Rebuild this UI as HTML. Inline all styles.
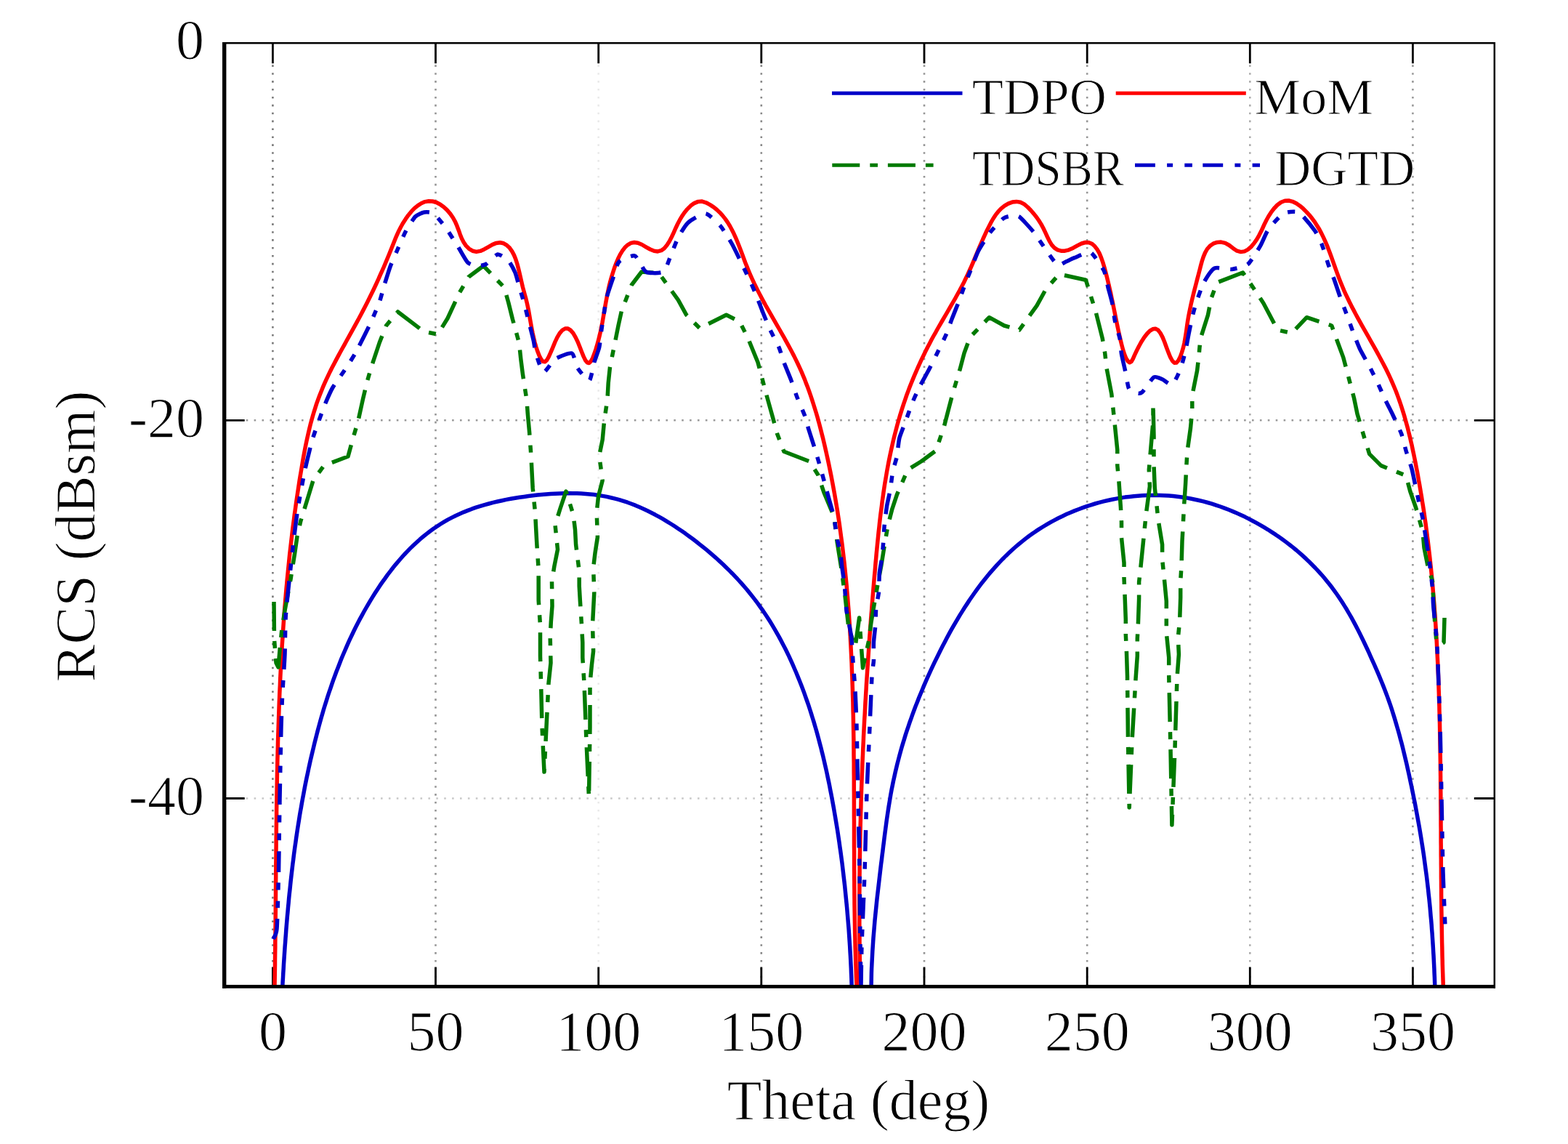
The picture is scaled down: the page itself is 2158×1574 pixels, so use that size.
<!DOCTYPE html>
<html><head><meta charset="utf-8"><title>RCS vs Theta</title>
<style>html,body{margin:0;padding:0;background:#fff;}svg{display:block;}text{font-family:"Liberation Serif","Times New Roman",serif;fill:#000;stroke:#fff;stroke-width:1.1px;}</style>
</head><body>
<svg xmlns="http://www.w3.org/2000/svg" width="2158" height="1574" viewBox="0 0 2158 1574">
<rect width="2158" height="1574" fill="#fff"/>
<path d="M375.4 89.3 V1355.4" stroke="#7a7a7a" stroke-width="2.6" stroke-dasharray="2.6 8.3" fill="none"/>
<path d="M599.5 89.3 V1355.4" stroke="#959595" stroke-width="2.6" stroke-dasharray="2.6 8.3" fill="none"/>
<path d="M823.7 89.3 V1355.4" stroke="#eaeaea" stroke-width="2.6" stroke-dasharray="2.6 8.3" fill="none"/>
<path d="M1047.8 89.3 V1355.4" stroke="#888888" stroke-width="2.6" stroke-dasharray="2.6 8.3" fill="none"/>
<path d="M1272 89.3 V1355.4" stroke="#959595" stroke-width="2.6" stroke-dasharray="2.6 8.3" fill="none"/>
<path d="M1496.2 89.3 V1355.4" stroke="#959595" stroke-width="2.6" stroke-dasharray="2.6 8.3" fill="none"/>
<path d="M1720.3 89.3 V1355.4" stroke="#acacac" stroke-width="2.6" stroke-dasharray="2.6 8.3" fill="none"/>
<path d="M1944.4 89.3 V1355.4" stroke="#999999" stroke-width="2.6" stroke-dasharray="2.6 8.3" fill="none"/>
<path d="M338.7 578.3 H2026.8" stroke="#999999" stroke-width="2.6" stroke-dasharray="2.6 8.3" fill="none"/>
<path d="M338.7 1098.5 H2026.8" stroke="#c8c8c8" stroke-width="2.6" stroke-dasharray="2.6 8.3" fill="none"/>
<path d="M375.4 1357.4 V1330.4 M375.4 59.3 V87.3 M599.5 1357.4 V1330.4 M599.5 59.3 V87.3 M823.7 1357.4 V1330.4 M823.7 59.3 V87.3 M1047.8 1357.4 V1330.4 M1047.8 59.3 V87.3 M1272 1357.4 V1330.4 M1272 59.3 V87.3 M1496.2 1357.4 V1330.4 M1496.2 59.3 V87.3 M1720.3 1357.4 V1330.4 M1720.3 59.3 V87.3 M1944.4 1357.4 V1330.4 M1944.4 59.3 V87.3 M308.7 578.3 H336.7 M2056.8 578.3 H2028.8 M308.7 1098.5 H336.7 M2056.8 1098.5 H2028.8" stroke="#000" stroke-width="2.8" fill="none"/>
<defs><clipPath id="c"><rect x="311" y="60" width="1745" height="1296"/></clipPath></defs>
<g clip-path="url(#c)" fill="none" stroke-width="5.5" stroke-linejoin="round">
<path d="M388.8 1357 L389.1 1351 L389.5 1344.9 L389.8 1338.9 L390.2 1332.8 L390.5 1326.8 L390.9 1320.7 L391.3 1314.7 L391.7 1308.7 L392.1 1302.6 L392.6 1296.6 L393 1290.6 L393.5 1284.5 L393.9 1278.5 L394.4 1272.5 L394.9 1266.5 L395.4 1260.5 L396 1254.4 L396.5 1248.4 L397.1 1242.4 L397.6 1236.4 L398.2 1230.4 L398.9 1224.4 L399.5 1218.4 L400.1 1212.4 L400.8 1206.4 L401.5 1200.4 L402.2 1194.4 L402.9 1188.5 L403.7 1182.5 L404.4 1176.5 L405.2 1170.5 L406 1164.6 L406.9 1158.6 L407.7 1152.6 L408.6 1146.7 L409.5 1140.7 L410.4 1134.8 L411.4 1128.8 L412.3 1122.9 L413.3 1116.9 L414.4 1111 L415.4 1105 L416.5 1099.1 L417.6 1093.2 L418.7 1087.3 L419.8 1081.3 L421 1075.4 L422.2 1069.5 L423.5 1063.6 L424.7 1057.7 L426 1051.8 L427.3 1045.9 L428.7 1040 L430.1 1034.1 L431.5 1028.3 L432.9 1022.4 L434.4 1016.5 L435.9 1010.6 L437.4 1004.8 L439 998.9 L440.6 993.1 L442.2 987.3 L443.9 981.4 L445.6 975.6 L447.4 969.8 L449.2 964.1 L451 958.3 L452.9 952.5 L454.9 946.8 L456.8 941.1 L458.8 935.4 L460.9 929.7 L463 924 L465.2 918.4 L467.4 912.7 L469.6 907.1 L471.9 901.5 L474.3 896 L476.7 890.4 L479.1 884.9 L481.6 879.4 L484.2 874 L486.8 868.5 L489.5 863.1 L492.2 857.7 L495 852.4 L497.9 847.1 L500.8 841.8 L503.8 836.5 L506.8 831.3 L509.9 826.1 L513.1 820.9 L516.3 815.8 L519.6 810.7 L522.9 805.7 L526.4 800.7 L529.9 795.8 L533.4 790.9 L537.1 786.1 L540.8 781.3 L544.6 776.6 L548.5 772 L552.4 767.5 L556.4 763 L560.6 758.7 L564.7 754.4 L569 750.2 L573.4 746.2 L577.8 742.2 L582.3 738.4 L587 734.6 L591.7 731 L596.5 727.5 L601.4 724.2 L606.3 721 L611.4 717.9 L616.6 714.9 L621.9 712.1 L627.2 709.5 L632.7 707 L638.2 704.6 L643.8 702.4 L649.5 700.2 L655.2 698.2 L661 696.4 L666.9 694.6 L672.8 693 L678.8 691.4 L684.8 690 L690.8 688.7 L696.8 687.4 L702.9 686.3 L709 685.2 L715.1 684.2 L721.2 683.4 L727.4 682.5 L733.5 681.8 L739.6 681.1 L745.7 680.5 L751.8 680 L757.9 679.5 L763.9 679.2 L770 678.9 L776 678.7 L782 678.6 L788 678.7 L794 678.8 L799.9 679.1 L805.8 679.5 L811.7 680 L817.6 680.6 L823.5 681.4 L829.3 682.4 L835.1 683.4 L840.8 684.7 L846.6 686.1 L852.3 687.6 L857.9 689.4 L863.6 691.2 L869.1 693.3 L874.7 695.4 L880.2 697.8 L885.7 700.2 L891.1 702.8 L896.5 705.5 L901.9 708.3 L907.2 711.2 L912.5 714.2 L917.7 717.3 L922.9 720.5 L928.1 723.8 L933.2 727.2 L938.2 730.6 L943.3 734.1 L948.2 737.7 L953.1 741.3 L958 745 L962.8 748.8 L967.6 752.6 L972.3 756.4 L977 760.3 L981.6 764.3 L986.1 768.3 L990.6 772.4 L995.1 776.5 L999.4 780.7 L1003.7 784.9 L1008 789.2 L1012.2 793.6 L1016.3 798 L1020.3 802.4 L1024.3 807 L1028.2 811.5 L1032 816.2 L1035.7 820.9 L1039.4 825.6 L1043 830.4 L1046.5 835.3 L1050 840.2 L1053.4 845.2 L1056.7 850.2 L1059.9 855.3 L1063 860.4 L1066.1 865.6 L1069.1 870.8 L1072.1 876.1 L1074.9 881.4 L1077.7 886.7 L1080.5 892.1 L1083.2 897.5 L1085.8 902.9 L1088.3 908.4 L1090.8 913.9 L1093.2 919.5 L1095.6 925 L1097.9 930.6 L1100.2 936.2 L1102.4 941.8 L1104.6 947.5 L1106.7 953.1 L1108.7 958.8 L1110.7 964.5 L1112.7 970.2 L1114.6 976 L1116.4 981.7 L1118.2 987.5 L1120 993.2 L1121.7 999 L1123.4 1004.8 L1125 1010.6 L1126.6 1016.5 L1128.1 1022.3 L1129.7 1028.2 L1131.1 1034 L1132.6 1039.9 L1134 1045.8 L1135.3 1051.7 L1136.7 1057.6 L1138 1063.5 L1139.2 1069.4 L1140.5 1075.3 L1141.7 1081.2 L1142.8 1087.2 L1144 1093.1 L1145.1 1099 L1146.2 1105 L1147.3 1110.9 L1148.3 1116.9 L1149.3 1122.8 L1150.3 1128.8 L1151.3 1134.8 L1152.3 1140.7 L1153.2 1146.7 L1154.1 1152.6 L1155 1158.6 L1155.8 1164.6 L1156.7 1170.6 L1157.5 1176.5 L1158.3 1182.5 L1159.1 1188.5 L1159.8 1194.5 L1160.5 1200.5 L1161.2 1206.5 L1161.9 1212.4 L1162.6 1218.4 L1163.2 1224.4 L1163.8 1230.4 L1164.4 1236.4 L1165 1242.4 L1165.6 1248.4 L1166.1 1254.5 L1166.6 1260.5 L1167.1 1266.5 L1167.6 1272.5 L1168.1 1278.5 L1168.5 1284.5 L1168.9 1290.6 L1169.3 1296.6 L1169.7 1302.6 L1170 1308.7 L1170.4 1314.7 L1170.7 1320.7 L1171 1326.8 L1171.3 1332.8 L1171.5 1338.9 L1171.8 1344.9 L1172 1350.9 L1172.2 1357" stroke="#0000c8"/>
<path d="M1199.1 1357 L1199.2 1350.9 L1199.3 1344.8 L1199.4 1338.8 L1199.6 1332.7 L1199.9 1326.7 L1200.2 1320.6 L1200.5 1314.6 L1200.8 1308.6 L1201.2 1302.6 L1201.6 1296.5 L1202 1290.5 L1202.5 1284.6 L1203 1278.6 L1203.5 1272.6 L1204 1266.6 L1204.6 1260.6 L1205.2 1254.6 L1205.8 1248.7 L1206.4 1242.7 L1207 1236.7 L1207.7 1230.7 L1208.4 1224.8 L1209.1 1218.8 L1209.8 1212.8 L1210.5 1206.8 L1211.2 1200.8 L1211.9 1194.8 L1212.6 1188.8 L1213.4 1182.8 L1214.1 1176.8 L1214.9 1170.8 L1215.6 1164.7 L1216.4 1158.7 L1217.1 1152.7 L1217.9 1146.6 L1218.7 1140.6 L1219.5 1134.5 L1220.3 1128.5 L1221.2 1122.4 L1222.1 1116.4 L1223 1110.4 L1224 1104.4 L1225 1098.4 L1226 1092.4 L1227.1 1086.5 L1228.3 1080.6 L1229.5 1074.6 L1230.8 1068.8 L1232.1 1062.9 L1233.5 1057 L1234.9 1051.2 L1236.4 1045.4 L1237.9 1039.6 L1239.5 1033.8 L1241.1 1028.1 L1242.8 1022.4 L1244.6 1016.6 L1246.3 1010.9 L1248.2 1005.2 L1250.1 999.6 L1252 993.9 L1254 988.3 L1256 982.7 L1258.1 977 L1260.2 971.4 L1262.4 965.9 L1264.6 960.3 L1266.9 954.7 L1269.2 949.2 L1271.5 943.6 L1273.9 938.1 L1276.3 932.6 L1278.8 927.1 L1281.3 921.6 L1283.9 916.1 L1286.5 910.6 L1289.2 905.2 L1291.9 899.7 L1294.6 894.2 L1297.4 888.8 L1300.2 883.4 L1303 878 L1305.9 872.6 L1308.9 867.2 L1311.9 861.9 L1315 856.6 L1318.1 851.3 L1321.2 846.1 L1324.5 840.9 L1327.7 835.7 L1331.1 830.6 L1334.4 825.5 L1337.9 820.5 L1341.4 815.5 L1344.9 810.6 L1348.6 805.7 L1352.2 800.9 L1356 796.2 L1359.8 791.5 L1363.7 786.9 L1367.7 782.4 L1371.7 777.9 L1375.8 773.5 L1379.9 769.2 L1384.2 764.9 L1388.5 760.8 L1392.9 756.7 L1397.3 752.8 L1401.9 748.9 L1406.5 745.1 L1411.2 741.4 L1415.9 737.8 L1420.8 734.3 L1425.7 730.9 L1430.7 727.6 L1435.8 724.5 L1441 721.4 L1446.2 718.4 L1451.4 715.6 L1456.8 712.8 L1462.2 710.2 L1467.6 707.6 L1473.1 705.2 L1478.7 702.9 L1484.3 700.7 L1489.9 698.6 L1495.6 696.6 L1501.3 694.8 L1507.1 693 L1512.9 691.4 L1518.7 689.9 L1524.6 688.5 L1530.5 687.2 L1536.4 686.1 L1542.4 685 L1548.3 684.1 L1554.3 683.4 L1560.3 682.7 L1566.3 682.2 L1572.3 681.8 L1578.3 681.5 L1584.4 681.4 L1590.4 681.3 L1596.4 681.5 L1602.5 681.7 L1608.5 682.1 L1614.5 682.6 L1620.5 683.2 L1626.5 684 L1632.5 684.9 L1638.5 686 L1644.4 687.2 L1650.3 688.5 L1656.2 689.9 L1662.1 691.5 L1667.9 693.2 L1673.7 695.1 L1679.5 697 L1685.2 699.1 L1690.9 701.3 L1696.6 703.6 L1702.2 706 L1707.7 708.5 L1713.3 711.1 L1718.7 713.9 L1724.1 716.7 L1729.5 719.6 L1734.8 722.6 L1740 725.7 L1745.2 728.8 L1750.3 732.1 L1755.4 735.4 L1760.3 738.8 L1765.2 742.3 L1770.1 745.9 L1774.8 749.5 L1779.5 753.2 L1784.2 757 L1788.7 760.9 L1793.2 764.9 L1797.6 768.9 L1801.9 773 L1806.1 777.2 L1810.3 781.5 L1814.4 785.9 L1818.4 790.3 L1822.3 794.8 L1826.1 799.4 L1829.8 804 L1833.5 808.8 L1837 813.6 L1840.5 818.5 L1843.9 823.5 L1847.2 828.5 L1850.4 833.6 L1853.6 838.8 L1856.6 844 L1859.6 849.2 L1862.6 854.6 L1865.4 859.9 L1868.2 865.3 L1871 870.8 L1873.7 876.2 L1876.4 881.7 L1879 887.2 L1881.6 892.7 L1884.1 898.2 L1886.6 903.8 L1889.1 909.3 L1891.6 914.8 L1894 920.3 L1896.4 925.9 L1898.7 931.4 L1901 937 L1903.3 942.6 L1905.5 948.2 L1907.6 953.8 L1909.7 959.4 L1911.7 965 L1913.7 970.7 L1915.6 976.4 L1917.4 982.1 L1919.2 987.9 L1920.9 993.6 L1922.6 999.4 L1924.3 1005.2 L1925.9 1011 L1927.4 1016.8 L1929 1022.6 L1930.5 1028.5 L1931.9 1034.3 L1933.3 1040.2 L1934.7 1046 L1936.1 1051.9 L1937.4 1057.8 L1938.7 1063.7 L1940 1069.6 L1941.2 1075.5 L1942.5 1081.4 L1943.7 1087.4 L1944.9 1093.3 L1946.1 1099.2 L1947.3 1105.1 L1948.4 1111.1 L1949.5 1117 L1950.6 1123 L1951.7 1128.9 L1952.8 1134.9 L1953.8 1140.8 L1954.8 1146.8 L1955.8 1152.7 L1956.7 1158.7 L1957.7 1164.7 L1958.6 1170.6 L1959.5 1176.6 L1960.3 1182.6 L1961.1 1188.6 L1961.9 1194.6 L1962.7 1200.5 L1963.5 1206.5 L1964.2 1212.5 L1964.9 1218.5 L1965.6 1224.5 L1966.2 1230.5 L1966.9 1236.5 L1967.5 1242.5 L1968.1 1248.5 L1968.6 1254.5 L1969.1 1260.6 L1969.7 1266.6 L1970.2 1272.6 L1970.6 1278.6 L1971.1 1284.6 L1971.5 1290.7 L1971.9 1296.7 L1972.3 1302.7 L1972.6 1308.7 L1973 1314.8 L1973.3 1320.8 L1973.6 1326.8 L1973.9 1332.9 L1974.1 1338.9 L1974.4 1344.9 L1974.6 1351 L1974.8 1357" stroke="#0000c8"/>
<path d="M378 1357 L378.1 1351 L378.2 1345 L378.3 1339 L378.4 1333 L378.5 1326.9 L378.5 1320.9 L378.6 1314.9 L378.7 1308.9 L378.8 1302.9 L378.8 1296.9 L378.9 1290.9 L379 1284.9 L379 1278.8 L379.1 1272.8 L379.2 1266.8 L379.2 1260.8 L379.3 1254.8 L379.3 1248.8 L379.4 1242.8 L379.4 1236.7 L379.5 1230.7 L379.5 1224.7 L379.6 1218.7 L379.6 1212.7 L379.7 1206.7 L379.7 1200.7 L379.8 1194.6 L379.8 1188.6 L379.9 1182.6 L380 1176.6 L380 1170.6 L380.1 1164.6 L380.1 1158.6 L380.2 1152.5 L380.3 1146.5 L380.3 1140.5 L380.4 1134.5 L380.5 1128.5 L380.6 1122.5 L380.6 1116.5 L380.7 1110.4 L380.8 1104.4 L380.9 1098.4 L381 1092.4 L381.1 1086.4 L381.2 1080.4 L381.3 1074.4 L381.4 1068.4 L381.5 1062.3 L381.7 1056.3 L381.8 1050.3 L381.9 1044.3 L382.1 1038.3 L382.2 1032.3 L382.4 1026.3 L382.5 1020.3 L382.7 1014.3 L382.9 1008.3 L383.1 1002.3 L383.3 996.2 L383.5 990.2 L383.7 984.2 L383.9 978.2 L384.1 972.2 L384.3 966.2 L384.6 960.2 L384.8 954.2 L385.1 948.2 L385.4 942.2 L385.6 936.2 L385.9 930.2 L386.2 924.2 L386.5 918.2 L386.8 912.2 L387.2 906.2 L387.5 900.2 L387.9 894.2 L388.2 888.2 L388.6 882.2 L389 876.2 L389.4 870.2 L389.8 864.2 L390.2 858.2 L390.6 852.2 L391.1 846.3 L391.5 840.3 L392 834.3 L392.5 828.3 L393 822.3 L393.5 816.3 L394 810.3 L394.6 804.3 L395.1 798.4 L395.7 792.4 L396.3 786.4 L396.9 780.4 L397.5 774.4 L398.1 768.4 L398.7 762.5 L399.4 756.5 L400.1 750.5 L400.8 744.5 L401.5 738.6 L402.2 732.6 L402.9 726.6 L403.7 720.6 L404.5 714.7 L405.2 708.7 L406.1 702.7 L406.9 696.8 L407.7 690.8 L408.6 684.8 L409.5 678.9 L410.4 672.9 L411.3 667 L412.2 661 L413.2 655 L414.2 649.1 L415.2 643.1 L416.2 637.2 L417.2 631.2 L418.3 625.3 L419.4 619.4 L420.6 613.4 L421.8 607.5 L423.1 601.7 L424.4 595.8 L425.8 589.9 L427.2 584.1 L428.8 578.3 L430.4 572.6 L432.1 566.8 L433.9 561.1 L435.7 555.4 L437.7 549.8 L439.8 544.2 L442 538.7 L444.2 533.2 L446.6 527.7 L449.1 522.2 L451.6 516.8 L454.2 511.4 L456.9 506.1 L459.7 500.7 L462.5 495.4 L465.3 490.1 L468.2 484.8 L471.1 479.5 L474 474.3 L476.9 469 L479.9 463.7 L482.8 458.4 L485.7 453.2 L488.6 447.9 L491.5 442.6 L494.4 437.3 L497.2 431.9 L500 426.6 L502.8 421.2 L505.5 415.9 L508.2 410.5 L510.9 405.1 L513.5 399.7 L516.1 394.3 L518.6 388.8 L521.1 383.4 L523.5 377.9 L526 372.4 L528.4 367 L530.7 361.5 L533 356 L535.3 350.5 L537.5 344.9 L539.7 339.4 L541.9 333.9 L544.1 328.4 L546.5 322.9 L549 317.4 L551.8 312 L554.8 306.7 L558.2 301.4 L561.9 296.2 L566 291.2 L570.3 286.7 L575 282.9 L579.8 279.8 L584.8 277.6 L590 276.7 L595.3 277 L600.6 278.5 L605.8 281.2 L610.7 284.8 L615.4 289.1 L619.7 294.1 L623.4 299.5 L626.5 305.1 L629 310.9 L631.2 316.7 L633.2 322.4 L635.4 328 L638.1 333.2 L641.4 338.1 L645.6 342.3 L650.4 345.2 L655.6 346.4 L661 345.4 L666.5 342.9 L672 339.8 L677.6 336.6 L683 334.4 L688.2 333.7 L693.1 334.8 L697.5 337.4 L701.4 341.1 L704.6 345.6 L707.4 350.9 L709.8 356.8 L711.8 363 L713.5 369.5 L715.1 376.1 L716.6 382.6 L718 388.9 L719.4 394.9 L720.9 400.5 L722.4 405.9 L723.9 411.3 L725.2 416.7 L726.4 422.2 L727.6 427.9 L728.6 433.7 L729.6 439.7 L730.7 445.8 L731.8 451.9 L733 458.1 L734.4 464.4 L735.9 470.7 L737.7 477 L739.8 483.3 L742.1 489.3 L744.7 494.3 L747.3 497.4 L749.9 497.8 L752.5 495.6 L755.1 491.2 L757.8 485.2 L760.7 478.4 L763.6 471.2 L766.8 464.4 L770.2 458.6 L773.9 454.3 L777.8 452 L781.7 452.1 L785.3 454.4 L788.8 458.4 L792 463.9 L795.1 470.3 L797.9 477.3 L800.6 484.2 L803.2 490.6 L805.7 495.7 L808.2 498.9 L810.7 499.6 L813.1 497.3 L815.6 492.7 L817.9 486.8 L820 480.5 L821.9 474.2 L823.6 468.1 L825.1 462 L826.5 456 L827.7 450.1 L828.9 444.3 L829.9 438.5 L830.9 432.7 L831.9 427 L832.9 421.3 L833.9 415.5 L835 409.8 L836.1 404 L837.3 398.2 L838.6 392.4 L840.1 386.5 L841.8 380.5 L843.7 374.5 L845.7 368.3 L848.1 362.1 L850.6 356 L853.5 350.1 L856.7 344.9 L860.2 340.3 L864.1 336.8 L868.3 334.4 L872.9 333.5 L878 334.2 L883.4 336.5 L889 339.8 L894.7 343 L900.2 345.3 L905.3 345.9 L910 344.7 L914.2 341.7 L917.9 337.3 L921.3 332 L924.4 326 L927.3 319.8 L930 313.7 L932.7 308 L935.5 302.7 L938.5 297.6 L942 292.5 L946.1 287.6 L950.6 283.1 L955.5 279.6 L960.8 277.4 L966.2 277.1 L971.7 278.8 L977 281.6 L982 284.9 L986.5 288.5 L990.7 292.4 L994.5 296.6 L998.1 301.1 L1001.4 305.9 L1004.4 310.8 L1007.2 316 L1009.9 321.3 L1012.4 326.8 L1014.7 332.3 L1017 338 L1019.2 343.8 L1021.4 349.6 L1023.6 355.4 L1025.7 361.2 L1028 366.9 L1030.3 372.7 L1032.7 378.3 L1035.2 383.9 L1037.8 389.5 L1040.5 394.9 L1043.2 400.4 L1046 405.8 L1048.8 411.1 L1051.7 416.4 L1054.6 421.7 L1057.6 426.9 L1060.6 432.2 L1063.6 437.4 L1066.6 442.6 L1069.6 447.8 L1072.6 453 L1075.5 458.2 L1078.5 463.3 L1081.4 468.6 L1084.3 473.8 L1087.1 479 L1089.9 484.3 L1092.7 489.6 L1095.3 494.9 L1097.9 500.3 L1100.4 505.7 L1102.9 511.1 L1105.2 516.6 L1107.5 522.1 L1109.6 527.7 L1111.8 533.3 L1113.8 538.9 L1115.8 544.6 L1117.7 550.3 L1119.5 556 L1121.3 561.8 L1123.1 567.5 L1124.8 573.3 L1126.4 579.1 L1128 585 L1129.5 590.8 L1131 596.7 L1132.5 602.5 L1133.9 608.4 L1135.3 614.3 L1136.6 620.1 L1137.9 626 L1139.2 631.9 L1140.5 637.8 L1141.7 643.7 L1142.9 649.6 L1144.1 655.5 L1145.2 661.4 L1146.3 667.3 L1147.4 673.2 L1148.5 679.2 L1149.5 685.1 L1150.5 691 L1151.5 696.9 L1152.5 702.8 L1153.4 708.8 L1154.3 714.7 L1155.2 720.6 L1156 726.6 L1156.8 732.5 L1157.6 738.5 L1158.4 744.4 L1159.2 750.4 L1159.9 756.3 L1160.6 762.3 L1161.3 768.2 L1162 774.2 L1162.6 780.2 L1163.2 786.1 L1163.8 792.1 L1164.4 798.1 L1165 804.1 L1165.5 810 L1166 816 L1166.6 822 L1167 828 L1167.5 834 L1168 839.9 L1168.4 845.9 L1168.8 851.9 L1169.2 857.9 L1169.6 863.9 L1169.9 869.9 L1170.3 875.9 L1170.6 881.9 L1170.9 887.9 L1171.2 893.9 L1171.5 899.9 L1171.8 905.9 L1172.1 911.9 L1172.3 917.9 L1172.5 923.9 L1172.8 929.9 L1173 935.9 L1173.2 942 L1173.4 948 L1173.5 954 L1173.7 960 L1173.9 966 L1174 972 L1174.1 978.1 L1174.3 984.1 L1174.4 990.1 L1174.5 996.1 L1174.6 1002.1 L1174.7 1008.2 L1174.8 1014.2 L1174.9 1020.2 L1174.9 1026.2 L1175 1032.3 L1175 1038.3 L1175.1 1044.3 L1175.2 1050.3 L1175.2 1056.4 L1175.2 1062.4 L1175.3 1068.4 L1175.3 1074.4 L1175.3 1080.5 L1175.3 1086.5 L1175.4 1092.5 L1175.4 1098.6 L1175.4 1104.6 L1175.4 1110.6 L1175.4 1116.6 L1175.4 1122.7 L1175.5 1128.7 L1175.5 1134.7 L1175.5 1140.7 L1175.5 1146.8 L1175.5 1152.8 L1175.5 1158.8 L1175.5 1164.8 L1175.6 1170.9 L1175.6 1176.9 L1175.6 1182.9 L1175.6 1188.9 L1175.6 1194.9 L1175.7 1201 L1175.7 1207 L1175.8 1213 L1175.8 1219 L1175.9 1225 L1175.9 1231 L1176 1237.1 L1176 1243.1 L1176.1 1249.1 L1176.2 1255.1 L1176.3 1261.1 L1176.4 1267.1 L1176.5 1273.1 L1176.6 1279.1 L1176.7 1285.1 L1176.9 1291.1 L1177 1297.1 L1177.1 1303.1 L1177.3 1309.1 L1177.5 1315.1 L1177.7 1321.1 L1177.9 1327.1 L1178.1 1333.1 L1178.3 1339.1 L1178.5 1345 L1178.8 1351 L1179 1357" stroke="#ff0000"/>
<path d="M1184 1357 L1183.9 1350.9 L1183.7 1344.9 L1183.6 1338.8 L1183.5 1332.7 L1183.4 1326.7 L1183.3 1320.6 L1183.2 1314.6 L1183.1 1308.5 L1183.1 1302.5 L1183 1296.4 L1183 1290.4 L1182.9 1284.3 L1182.9 1278.3 L1182.8 1272.3 L1182.8 1266.2 L1182.8 1260.2 L1182.8 1254.2 L1182.8 1248.1 L1182.8 1242.1 L1182.8 1236.1 L1182.8 1230 L1182.9 1224 L1182.9 1218 L1182.9 1212 L1183 1206 L1183.1 1200 L1183.1 1193.9 L1183.2 1187.9 L1183.3 1181.9 L1183.4 1175.9 L1183.5 1169.9 L1183.6 1163.9 L1183.7 1157.9 L1183.8 1151.9 L1183.9 1145.9 L1184.1 1139.9 L1184.2 1133.9 L1184.4 1127.9 L1184.5 1121.9 L1184.7 1115.9 L1184.9 1109.9 L1185 1103.9 L1185.2 1097.9 L1185.4 1091.9 L1185.6 1085.9 L1185.8 1079.9 L1186 1073.9 L1186.2 1067.9 L1186.5 1061.9 L1186.7 1055.9 L1186.9 1049.9 L1187.2 1043.9 L1187.5 1038 L1187.7 1032 L1188 1026 L1188.3 1020 L1188.5 1014 L1188.8 1008 L1189.1 1002 L1189.4 996 L1189.7 990 L1190.1 984 L1190.4 978.1 L1190.7 972.1 L1191 966.1 L1191.4 960.1 L1191.7 954.1 L1192.1 948.1 L1192.4 942.1 L1192.8 936.1 L1193.2 930.1 L1193.6 924.1 L1194 918.1 L1194.4 912.1 L1194.8 906.1 L1195.2 900.1 L1195.6 894.1 L1196 888.1 L1196.4 882.1 L1196.8 876.1 L1197.3 870.1 L1197.7 864.1 L1198.2 858.1 L1198.6 852.1 L1199.1 846.1 L1199.6 840.1 L1200 834.1 L1200.5 828.1 L1201 822.1 L1201.5 816.1 L1202 810.1 L1202.5 804 L1203 798 L1203.5 792 L1204.1 786 L1204.6 780 L1205.1 773.9 L1205.7 767.9 L1206.2 761.9 L1206.8 755.9 L1207.4 749.8 L1208 743.8 L1208.6 737.8 L1209.2 731.8 L1209.9 725.8 L1210.5 719.8 L1211.2 713.7 L1211.9 707.7 L1212.7 701.8 L1213.5 695.8 L1214.2 689.8 L1215.1 683.8 L1215.9 677.8 L1216.8 671.9 L1217.7 665.9 L1218.7 660 L1219.7 654.1 L1220.7 648.1 L1221.8 642.2 L1222.9 636.3 L1224.1 630.4 L1225.3 624.6 L1226.6 618.7 L1227.9 612.9 L1229.2 607 L1230.6 601.2 L1232.1 595.4 L1233.6 589.6 L1235.1 583.9 L1236.8 578.1 L1238.4 572.4 L1240.2 566.6 L1242 560.9 L1243.8 555.3 L1245.8 549.6 L1247.7 544 L1249.8 538.4 L1251.9 532.8 L1254.1 527.2 L1256.4 521.6 L1258.7 516.1 L1261.1 510.6 L1263.5 505.1 L1266 499.6 L1268.5 494.2 L1271.2 488.8 L1273.8 483.4 L1276.5 478 L1279.3 472.7 L1282.1 467.3 L1285 462 L1288 456.8 L1290.9 451.5 L1293.9 446.3 L1297 441 L1300 435.8 L1303.1 430.6 L1306.1 425.4 L1309.1 420.2 L1312.1 415 L1315.1 409.8 L1318 404.5 L1320.9 399.3 L1323.7 394 L1326.5 388.7 L1329.1 383.3 L1331.7 377.9 L1334.2 372.5 L1336.6 367.1 L1339 361.6 L1341.3 356.1 L1343.6 350.6 L1345.9 345.1 L1348.2 339.5 L1350.6 334 L1353 328.5 L1355.6 322.9 L1358.1 317.4 L1360.9 311.9 L1363.7 306.4 L1366.8 301 L1370.1 295.9 L1373.8 291.2 L1377.9 286.9 L1382.6 283.2 L1387.7 280.1 L1393.2 278.1 L1398.9 277.4 L1404.4 278.2 L1409.6 280.9 L1414.4 285 L1418.8 289.5 L1422.8 294.1 L1426.5 298.7 L1429.8 303.5 L1433 308.6 L1435.9 314 L1438.7 319.9 L1441.5 326 L1444.4 331.9 L1447.6 337.1 L1451.3 341.2 L1455.6 343.9 L1460.3 345.2 L1465.5 345.2 L1471.1 343.8 L1476.9 341.2 L1482.8 337.9 L1488.6 335 L1494 333.5 L1498.7 333.7 L1503 335.5 L1506.7 338.8 L1510 343.1 L1513 348.4 L1515.5 354.4 L1517.8 360.9 L1519.8 367.5 L1521.6 374.2 L1523.3 380.7 L1524.8 386.8 L1526.2 392.8 L1527.5 398.5 L1528.8 404.2 L1529.9 409.7 L1531.1 415.1 L1532.2 420.5 L1533.3 426 L1534.4 431.4 L1535.5 437 L1536.7 442.7 L1537.9 448.6 L1539.2 454.7 L1540.6 461.1 L1542.1 467.7 L1543.8 474.6 L1545.6 481.4 L1547.6 487.6 L1549.8 493 L1552.3 497 L1554.7 498.8 L1557 497.6 L1559.2 493.8 L1561.6 488.4 L1564.5 482.3 L1567.7 476 L1571.2 469.7 L1574.9 464 L1578.8 459 L1582.6 455.1 L1586.5 452.8 L1590.2 452.3 L1593.7 454 L1596.9 458.1 L1600 463.9 L1602.8 470.8 L1605.5 478.2 L1608.2 485.4 L1610.8 491.7 L1613.5 496.5 L1616.3 499.2 L1619 499.1 L1621.8 496.1 L1624.3 491.1 L1626.5 484.9 L1628.4 478.6 L1629.9 472.3 L1631 466 L1632 459.9 L1632.9 453.8 L1633.7 447.8 L1634.6 441.9 L1635.6 436 L1636.7 430.3 L1637.9 424.5 L1639.1 418.8 L1640.4 413.1 L1641.8 407.4 L1643.2 401.7 L1644.7 395.9 L1646.2 390.1 L1647.7 384.2 L1649.3 378.2 L1650.9 372.1 L1652.5 365.8 L1654.2 359.5 L1656.2 353.4 L1658.6 347.6 L1661.5 342.5 L1665.3 338.3 L1669.8 335.2 L1675 333.4 L1680.5 333.1 L1686.2 334.4 L1691.8 337.5 L1697.2 341.7 L1702.5 345.2 L1707.7 346.6 L1712.7 345.9 L1717.4 343.4 L1721.8 339.6 L1725.9 334.8 L1729.5 329.6 L1732.7 324.1 L1735.4 318.8 L1737.9 313.5 L1740.3 308.2 L1742.9 303 L1745.8 297.7 L1749.2 292.4 L1753.3 287 L1758 282 L1763.1 278.2 L1768.4 276.2 L1773.6 276 L1778.9 277.3 L1784 279.8 L1789 283.2 L1793.7 287.2 L1798.1 291.6 L1802.2 296.1 L1806 300.8 L1809.6 305.7 L1812.8 310.7 L1815.9 315.8 L1818.7 321.1 L1821.3 326.4 L1823.8 331.8 L1826.2 337.3 L1828.4 342.9 L1830.5 348.5 L1832.6 354.2 L1834.6 359.9 L1836.6 365.5 L1838.6 371.2 L1840.7 376.9 L1842.8 382.6 L1845 388.2 L1847.3 393.8 L1849.6 399.3 L1852.1 404.8 L1854.7 410.3 L1857.3 415.7 L1860 421.1 L1862.8 426.4 L1865.6 431.8 L1868.5 437.1 L1871.4 442.4 L1874.3 447.6 L1877.3 452.9 L1880.3 458.1 L1883.3 463.4 L1886.2 468.6 L1889.2 473.9 L1892.2 479.1 L1895.1 484.4 L1898 489.7 L1900.8 495 L1903.6 500.3 L1906.4 505.6 L1909.1 511 L1911.7 516.4 L1914.2 521.8 L1916.6 527.3 L1918.9 532.8 L1921.2 538.3 L1923.3 543.9 L1925.4 549.6 L1927.3 555.2 L1929.2 560.9 L1931 566.6 L1932.8 572.4 L1934.4 578.2 L1936 584 L1937.6 589.8 L1939 595.6 L1940.5 601.5 L1941.8 607.4 L1943.2 613.2 L1944.4 619.1 L1945.7 625.1 L1946.9 631 L1948.1 636.9 L1949.2 642.8 L1950.4 648.7 L1951.5 654.7 L1952.5 660.6 L1953.6 666.5 L1954.6 672.5 L1955.6 678.4 L1956.6 684.3 L1957.5 690.3 L1958.5 696.2 L1959.4 702.2 L1960.3 708.1 L1961.1 714.1 L1962 720 L1962.8 726 L1963.6 732 L1964.3 737.9 L1965.1 743.9 L1965.8 749.9 L1966.5 755.8 L1967.2 761.8 L1967.9 767.8 L1968.5 773.7 L1969.2 779.7 L1969.8 785.7 L1970.4 791.7 L1970.9 797.7 L1971.5 803.7 L1972 809.6 L1972.5 815.6 L1973 821.6 L1973.5 827.6 L1974 833.6 L1974.4 839.6 L1974.9 845.6 L1975.3 851.6 L1975.7 857.6 L1976.1 863.6 L1976.5 869.6 L1976.8 875.6 L1977.2 881.6 L1977.5 887.6 L1977.8 893.6 L1978.1 899.6 L1978.4 905.6 L1978.7 911.6 L1979 917.6 L1979.2 923.7 L1979.5 929.7 L1979.7 935.7 L1979.9 941.7 L1980.1 947.7 L1980.3 953.7 L1980.5 959.8 L1980.7 965.8 L1980.9 971.8 L1981 977.8 L1981.2 983.8 L1981.3 989.9 L1981.5 995.9 L1981.6 1001.9 L1981.7 1007.9 L1981.8 1013.9 L1981.9 1020 L1982 1026 L1982.1 1032 L1982.2 1038 L1982.3 1044.1 L1982.4 1050.1 L1982.4 1056.1 L1982.5 1062.2 L1982.6 1068.2 L1982.6 1074.2 L1982.7 1080.2 L1982.7 1086.3 L1982.8 1092.3 L1982.8 1098.3 L1982.8 1104.3 L1982.9 1110.4 L1982.9 1116.4 L1983 1122.4 L1983 1128.5 L1983 1134.5 L1983.1 1140.5 L1983.1 1146.5 L1983.1 1152.6 L1983.1 1158.6 L1983.2 1164.6 L1983.2 1170.6 L1983.2 1176.7 L1983.3 1182.7 L1983.3 1188.7 L1983.4 1194.7 L1983.4 1200.8 L1983.4 1206.8 L1983.5 1212.8 L1983.5 1218.8 L1983.6 1224.8 L1983.6 1230.9 L1983.7 1236.9 L1983.8 1242.9 L1983.8 1248.9 L1983.9 1254.9 L1984 1260.9 L1984.1 1266.9 L1984.2 1273 L1984.3 1279 L1984.4 1285 L1984.5 1291 L1984.6 1297 L1984.8 1303 L1984.9 1309 L1985 1315 L1985.2 1321 L1985.3 1327 L1985.5 1333 L1985.7 1339 L1985.9 1345 L1986.1 1351 L1986.3 1357" stroke="#ff0000"/>
<path d="M377 828 L377.5 880 L380 912 L383 918 L385 895 L388 865 L392 840 L400 797 L405.7 761 L409 738 L413.8 717 L424 684 L431 661 L445.8 640.6 L479 628 L485.8 603 L492.7 580 L499.5 549 L505 526 L511 505 L522.4 471 L531.5 448 L547.5 429 L583 456 L602.5 460 L616 438 L632 403.5 L645 381 L665.4 365.8 L694 395.5 L699.7 416 L705.4 439 L714.5 472 L716.8 494 L719.4 514.5 L725 551 L726.3 569.4 L728.6 594.5 L731 628 L732 648.6 L733.2 671.5 L736.6 705.8 L737.7 727.5 L738.9 749.3 L741.2 783.6 L741.2 804 L741.2 826 L743.5 860 L743.5 882 L743.5 902.5 L744.6 940 L746 1000 L749 1062 L752 1000 L755 940 L758 912 L757.2 877.3 L758.3 855.6 L760 834 L759.5 800 L762.9 779 L767.5 756 L764 722 L770.9 700 L779 676 L789 708 L791.5 728.7 L792.6 749.3 L797.2 786 L797.2 806.4 L798.4 827 L800.6 861.3 L801.8 884.2 L801.8 904.8 L804 940 L807 1020 L810.5 1097 L812 1000 L812 940 L814.4 915 L816.6 896 L815.5 859 L816.6 838.5 L817.8 815.6 L816.6 781 L819 761 L822.4 739 L821.2 705 L823.5 683 L829.2 661 L824.7 627 L829.2 605 L831.5 580 L836 549 L837.2 527 L839.5 505 L846.4 471 L851 448 L855.5 427.6 L869.3 392 L883 374 L907 376 L933.3 412.7 L944.7 433.3 L963 451.6 L999.6 433.3 L1018 442.4 L1029.4 465.3 L1043 498.5 L1048.8 520.2 L1054.5 542 L1064 576 L1069.7 597 L1078.9 621.2 L1114.3 635 L1125.8 653.2 L1133.8 677.2 L1148.6 712.7 L1150 729 L1152 744.7 L1157.8 781.3 L1163 820 L1168 864 L1177 890 L1182.6 850 L1187.5 919 L1195.8 881 L1199 856 L1204.7 822.5 L1208 804 L1212.7 779 L1216 758.4 L1221.8 724 L1227.6 701.2 L1234.4 680.6 L1249.3 646.3 L1267.6 635 L1288.2 620 L1299.6 585.7 L1305.3 563.7 L1311 542 L1321.3 507.6 L1327 485.9 L1335 464 L1361.4 436.7 L1382 448 L1402.9 453.9 L1426.9 420.7 L1439.5 397.8 L1457.8 377.2 L1494.4 385.2 L1501.2 407 L1508 428.7 L1517.2 465.3 L1520.7 485.9 L1523 506.5 L1529.8 542 L1532 562.5 L1534.4 585.4 L1537.8 619 L1537.8 640.6 L1540 663.5 L1542.4 697.8 L1543.5 718.4 L1543.5 740 L1547 774.4 L1547 795 L1548 817.9 L1549.3 852.2 L1549.3 872.8 L1550.4 895.6 L1551.5 930 L1552.5 1020 L1554.2 1111 L1558 1020 L1563 934.5 L1565.3 902.5 L1565.3 878.5 L1566.4 858 L1567.6 823.6 L1567.6 800.7 L1569.8 781.3 L1573.3 747 L1575.6 724 L1577.8 703.5 L1582.4 669.2 L1581.3 646.3 L1587 580 L1587 556 L1588 600 L1588 639.5 L1589.3 671.5 L1591.6 692 L1594 715 L1599.6 749.3 L1599.6 769.8 L1601.9 791.6 L1605.3 827 L1605.3 847.6 L1605.3 870.5 L1608.7 904.8 L1608.7 927.7 L1611 1030 L1612.9 1135 L1617 1030 L1620 932.2 L1622.4 900.2 L1621.3 877.3 L1623.6 854.5 L1624.7 822.5 L1624.7 799.6 L1626 779 L1627 744.7 L1628.2 723 L1629.3 700 L1631.6 665.8 L1632.7 644 L1634 621.2 L1638.5 589 L1640.8 564.8 L1640.8 544.2 L1647.6 510 L1650 489.3 L1652 466.4 L1662.5 433.3 L1667 410.4 L1675 388.7 L1710.5 375 L1725.4 396.7 L1738.9 417.3 L1758.3 454 L1777.8 458.4 L1798.4 436.7 L1832.7 448 L1840.7 470 L1848.7 491.6 L1857.8 526 L1863.5 547.6 L1868 569.4 L1877.9 602.9 L1884.7 624.6 L1900.7 640.6 L1935 654.4 L1940.8 676 L1948.8 699 L1958 731 L1960 753.8 L1964.6 776.7 L1971.5 799.6 L1973 830 L1975 860 L1977 884 L1984 886 L1987 884 L1988 850" stroke="#007a00" stroke-dasharray="40 14 10 14"/>
<path d="M376 1292 C376.5 1290.6 380.2 1287.2 381 1278 C381.8 1268.8 383.1 1217.8 383.5 1200 C383.9 1182.2 384.6 1120 385 1100 C385.4 1080 386.6 1014.7 387 1000 C387.4 985.3 388.3 963 388.8 953 C389.3 943 391.6 910.6 392 900 C392.4 889.4 392.6 857.7 393.3 847 C394 836.3 397.6 803.2 398.7 793 C399.8 782.8 402.9 754.3 404 745 C405.1 735.7 408.4 709.5 409.9 700 C411.4 690.5 417.1 659.3 419 650 C420.9 640.7 427.3 614.1 429.3 607 C431.3 599.9 437.1 583.8 439 578.5 C440.9 573.2 446.1 559 448 554.5 C449.9 550 455.2 537.7 458 533 C460.8 528.3 472.4 512.3 475.5 507.6 C478.6 502.9 486.4 490.7 489 486 C491.6 481.3 499.7 465.3 502 460.7 C504.3 456.1 510 444.6 512 440 C514 435.4 520.7 419.8 522.4 415 C524.1 410.2 527.5 396.8 529 392 C530.5 387.2 535.3 371.7 537 367 C538.7 362.3 544.3 349.8 546.4 345 C548.5 340.2 555.5 323.7 558 319 C560.5 314.3 569 300.7 571.6 298 C574.2 295.3 581.5 292.4 584 292 C586.5 291.6 593.7 291.5 596.7 293.7 C599.7 295.9 610.6 309.3 614 314 C617.4 318.7 628 335.9 631 340.6 C634 345.3 641.1 358.5 643.6 361 C646.1 363.5 653.5 365.8 656 366 C658.5 366.2 665.9 365.1 668.8 363.5 C671.7 361.9 681.9 350.4 685 350 C688.1 349.6 697.6 356.5 700 359 C702.4 361.5 707.5 371.4 709 375 C710.5 378.6 713.6 391.2 714.9 395.5 C716.2 399.8 720.5 413.8 721.7 418.4 C723 423 726.1 436.3 727.4 441.3 C728.7 446.3 733.3 464.1 734.3 468.7 C735.3 473.3 736.3 482.6 737.7 487 C739.1 491.4 745.4 511.5 748 512.2 C750.6 512.9 760.1 496.6 764 494 C767.9 491.4 783.9 484.8 787 486 C790.1 487.2 792.6 502.7 795 506.5 C797.4 510.3 808.7 524.4 811 523.6 C813.3 522.8 816.4 503.1 817.8 498.5 C819.2 493.9 823.7 482.5 824.7 477.9 C825.7 473.3 827.3 457.5 828 452.7 C828.7 447.9 830.8 434.2 831.5 429.8 C832.2 425.4 833.8 413.8 835 409 C836.2 404.2 842.3 386.7 844 381.8 C845.7 376.9 849 363 852 360 C855 357 870.1 350.6 873.8 352 C877.5 353.4 885.1 371.8 889 374 C892.9 376.2 909.6 376.2 913 374 C916.4 371.8 921 356.7 923 352 C925 347.3 930.9 331.6 933.3 327 C935.7 322.4 943.2 309.6 947 306.3 C950.8 303 966.5 293.3 971 293.8 C975.5 294.3 987.9 306.8 991.6 311 C995.3 315.2 1004.9 331.2 1007.6 336 C1010.3 340.8 1016.7 354.3 1019 359 C1021.3 363.7 1028.4 378.6 1030.5 383 C1032.6 387.4 1037.8 398.8 1039.7 403.5 C1041.7 408.2 1048 425.1 1050 430 C1052 434.9 1057.2 447.9 1059.4 452.7 C1061.6 457.5 1070 473.3 1072 477.9 C1074 482.5 1077.2 493.9 1078.9 498.5 C1080.6 503.1 1087.2 518.8 1089 523.6 C1090.8 528.4 1095.2 541.7 1097 546.5 C1098.8 551.3 1105.9 567.2 1107.5 571.7 C1109.1 576.2 1111.6 586.5 1113 591 C1114.4 595.5 1119.7 611.8 1121.2 616.6 C1122.7 621.5 1126.6 634.7 1128 639.5 C1129.4 644.3 1133.7 660 1135 664.6 C1136.3 669.2 1139.3 680.6 1140.6 685.2 C1141.8 689.8 1146.4 704.9 1147.5 710.4 C1148.6 715.9 1151.1 735 1152 740 C1152.9 745 1156 756.6 1156.7 760.7 C1157.4 764.8 1158.4 776.7 1159 781.3 C1159.6 785.9 1161.8 800.5 1162.4 806.4 C1163 812.3 1164.1 833.1 1165 840 C1165.9 846.9 1170.6 868 1171.5 875 C1172.4 882 1173.5 902.5 1174 910 C1174.5 917.5 1176.5 941 1177 950 C1177.5 959 1178.6 985 1179 1000 C1179.4 1015 1180.6 1080 1181 1100 C1181.4 1120 1182.7 1180 1183 1200 C1183.3 1220 1183.8 1284.3 1184 1300 C1184.2 1315.7 1184.9 1351.3 1185 1357 M1185 1357 C1185.1 1351.3 1185.5 1315.7 1186 1300 C1186.5 1284.3 1189.3 1221 1190 1200 C1190.7 1179 1192.3 1110 1193 1090 C1193.7 1070 1196.3 1016 1197 1000 C1197.7 984 1199.5 939.1 1200 930 C1200.5 920.9 1202.2 914 1202.4 909.4 C1202.6 904.8 1202.2 889 1202.4 884.2 C1202.6 879.4 1204.4 866.1 1204.7 861.3 C1205 856.5 1205.3 840.8 1205.8 836.2 C1206.3 831.6 1208.8 820.4 1209.3 815.6 C1209.8 810.8 1210 792.8 1210.4 788 C1210.9 783.2 1213.2 772.2 1213.8 767.6 C1214.4 763 1215.7 747 1216 742.4 C1216.3 737.8 1216.8 726.5 1217.3 721.8 C1217.8 717.1 1219.9 700.3 1220.7 695.5 C1221.5 690.7 1224.5 678.5 1225.3 673.8 C1226.1 669.1 1227.8 653.2 1228.7 648.6 C1229.6 644 1233.5 632.6 1234.4 628 C1235.3 623.4 1236.6 607.7 1237.8 603 C1239 598.3 1244.2 585.7 1245.9 581 C1247.6 576.3 1253.1 560.4 1255 555.6 C1256.9 550.8 1262.9 537.6 1265.3 532.8 C1267.7 528 1276.6 512.2 1279 507.6 C1281.4 503 1287 491.7 1289.3 487 C1291.6 482.3 1299.9 465.5 1302 460.7 C1304.1 455.9 1308.2 443.7 1310 439 C1311.8 434.3 1318.2 418.6 1320 413.8 C1321.8 409 1326.5 395.6 1328.2 391 C1329.9 386.4 1335.6 372.6 1337.4 368 C1339.2 363.4 1344 350 1346.5 345.2 C1349 340.4 1359.1 324.5 1362.5 320 C1365.9 315.5 1377.8 302.9 1380.8 300.6 C1383.8 298.3 1389.8 297.2 1392 297 C1394.2 296.8 1400 296.1 1403 298.3 C1406 300.5 1418.5 314.3 1422.3 319 C1426.1 323.7 1437.3 340.6 1440.6 345.2 C1443.9 349.8 1452.9 363.2 1455.5 364.7 C1458.1 366.2 1464.6 361 1467 360 C1469.4 359 1476.1 355.6 1479.5 354.4 C1482.9 353.1 1497 345.7 1501 347.5 C1505 349.3 1517.1 367.9 1519.5 372.7 C1521.9 377.5 1523.8 390.9 1525 395.5 C1526.2 400.1 1530.1 413.8 1531 418.4 C1531.9 423 1533.4 436.5 1534.4 441.3 C1535.4 446.1 1540.4 461.8 1541.3 466.4 C1542.2 471 1542.7 482.3 1543.5 487 C1544.3 491.7 1548.3 508.5 1549.3 513.3 C1550.3 518.1 1552.2 532.2 1553.8 535 C1555.4 537.8 1563.2 540.5 1565 541 C1566.8 541.5 1569.7 541.8 1572 539.6 C1574.3 537.4 1585.2 520.8 1588 519 C1590.8 517.2 1597.5 521 1600 522 C1602.5 523 1610.8 530.7 1613.3 529.3 C1615.8 527.9 1622.9 512.3 1624.7 507.6 C1626.5 502.9 1630.5 487.3 1631.6 482.5 C1632.7 477.7 1635.1 464.2 1636 459.6 C1636.9 455 1639.8 441.1 1640.8 436.7 C1641.8 432.3 1644.9 420.8 1646.5 416 C1648.1 411.2 1654.3 393.4 1656.8 388.7 C1659.3 384 1667.7 370.8 1671.6 369 C1675.5 367.2 1691 370.9 1695.6 370.4 C1700.2 369.8 1713.5 366.7 1717.4 363.5 C1721.3 360.3 1731.7 343.2 1734.5 338.4 C1737.3 333.6 1742.5 320 1745.7 315.5 C1748.9 311 1762.1 296.1 1766.3 293.8 C1770.5 291.5 1783.7 290.2 1788 292.6 C1792.3 295 1806.6 313.2 1809.8 317.8 C1813 322.4 1818.2 333.8 1820 338.4 C1821.8 343 1826.4 358.9 1828 363.5 C1829.6 368.1 1834.3 379.3 1836 384 C1837.7 388.7 1843.3 405.6 1845 410.4 C1846.7 415.2 1851.5 427.3 1853.2 432 C1854.9 436.7 1860.6 452.5 1862.4 457.3 C1864.2 462.1 1869.2 475.2 1871.5 480 C1873.8 484.8 1882.9 500.7 1885.3 505.3 C1887.7 509.9 1893.4 521.4 1895.6 526 C1897.8 530.6 1904.8 546.4 1907 551 C1909.2 555.6 1915.1 567.1 1917.3 571.7 C1919.5 576.3 1926.9 592 1928.7 596.8 C1930.5 601.6 1933.6 615.2 1935 620 C1936.4 624.8 1941.8 640.4 1943 645 C1944.2 649.6 1946.5 661.3 1947.5 666 C1948.5 670.7 1952 687.3 1953 692 C1954 696.7 1957.1 708.4 1958 713 C1958.9 717.6 1961.2 733 1962 738 C1962.8 743 1965 755.9 1966 763 C1967 770.1 1970.8 802.1 1971.5 809 C1972.2 815.9 1972.2 827.2 1972.6 832 C1972.9 836.8 1974.6 852.5 1975 857 C1975.4 861.5 1976.7 872.7 1977 877 C1977.3 881.3 1978.2 894.9 1978.4 900 C1978.7 905.1 1979.1 918 1979.5 928 C1979.9 938 1981.5 982.8 1982 1000 C1982.5 1017.2 1983.6 1080 1984 1100 C1984.4 1120 1985.5 1182.4 1986 1200 C1986.5 1217.6 1988.7 1268.4 1989 1276" stroke="#0000c8" stroke-dasharray="29 15 9.5 15 10 14.5"/>
</g>
<path d="M308.7 58 V1359.8" stroke="#000" stroke-width="5.4" fill="none"/>
<path d="M306 1357.4 H2058" stroke="#000" stroke-width="4.8" fill="none"/>
<path d="M306 59.3 H2058" stroke="#000" stroke-width="2.6" fill="none"/>
<path d="M2056.8 58 V1359.8" stroke="#000" stroke-width="2.5" fill="none"/>
<g fill="none" stroke-width="5">
<path d="M1145 128.3 H1324.5" stroke="#0000c8"/>
<path d="M1535.7 128.3 H1714.8" stroke="#ff0000"/>
<path d="M1145.3 227.2 H1287" stroke="#007a00" stroke-dasharray="38 14 10.7 13.9"/>
<path d="M1562 227.2 H1734" stroke="#0000c8" stroke-dasharray="27.9 16.2 8 16.2 10.6 14.4"/>
</g>
<text transform="translate(1337.87 156.80) scale(1.0263 1)" font-size="69">TDPO</text>
<text transform="translate(1726.31 156.80) scale(1.0428 1)" font-size="69">MoM</text>
<text transform="translate(1337.96 255.10) scale(0.9405 1)" font-size="69">TDSBR</text>
<text transform="translate(1754.08 255.10) scale(1.0081 1)" font-size="69">DGTD</text>
<text x="281" y="80.6" font-size="78" text-anchor="end">0</text>
<text x="281" y="600.8" font-size="78" text-anchor="end">-20</text>
<text x="281" y="1121" font-size="78" text-anchor="end">-40</text>
<text x="375.4" y="1445" font-size="78" text-anchor="middle">0</text>
<text x="599.5" y="1445" font-size="78" text-anchor="middle">50</text>
<text x="823.7" y="1445" font-size="78" text-anchor="middle">100</text>
<text x="1047.8" y="1445" font-size="78" text-anchor="middle">150</text>
<text x="1272" y="1445" font-size="78" text-anchor="middle">200</text>
<text x="1496.2" y="1445" font-size="78" text-anchor="middle">250</text>
<text x="1720.3" y="1445" font-size="78" text-anchor="middle">300</text>
<text x="1944.4" y="1445" font-size="78" text-anchor="middle">350</text>
<text x="1181.5" y="1540" font-size="78" text-anchor="middle">Theta (deg)</text>
<text transform="translate(129.8 738) rotate(-90)" font-size="78" text-anchor="middle">RCS (dBsm)</text>
</svg>
</body></html>
